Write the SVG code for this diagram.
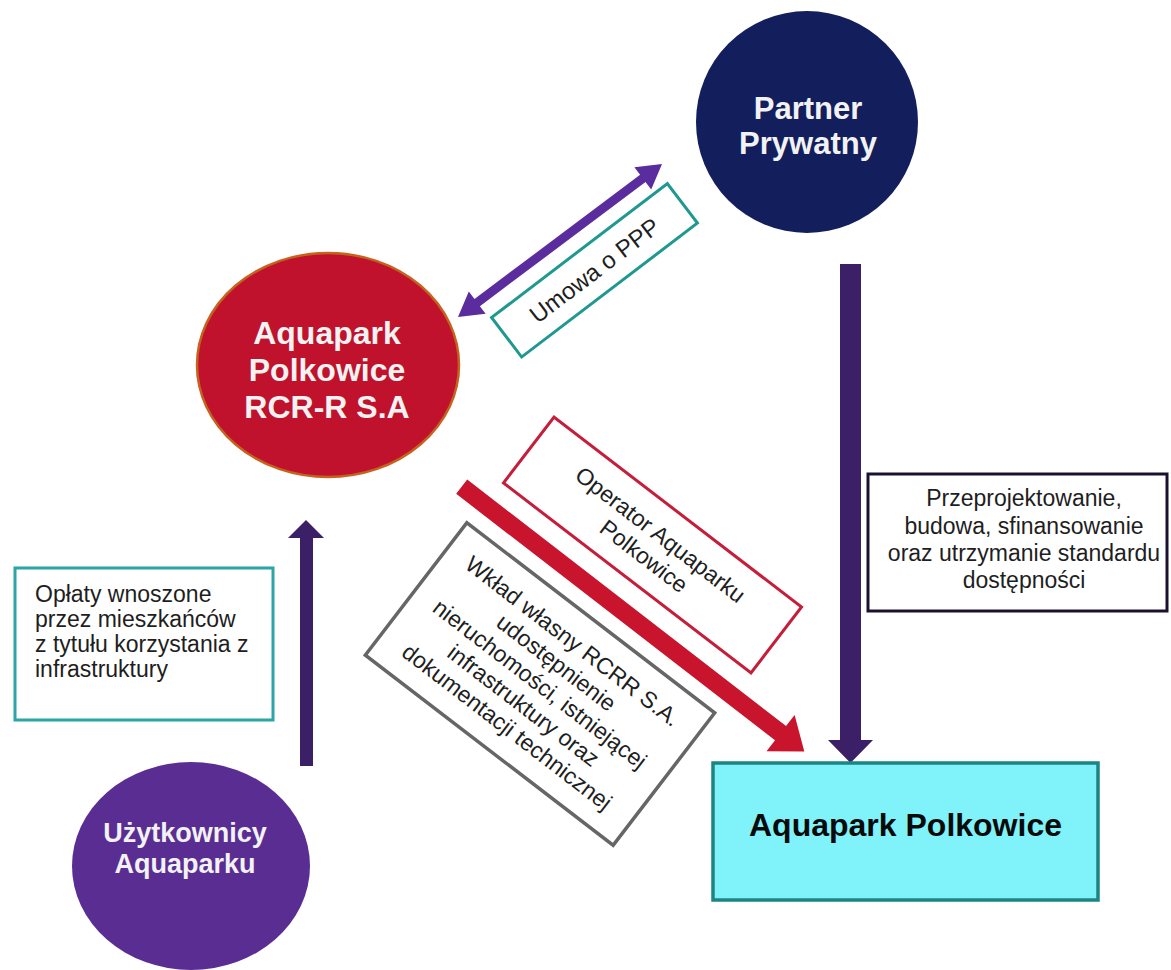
<svg xmlns="http://www.w3.org/2000/svg" width="1171" height="970" viewBox="0 0 1171 970">
  <style>
    .t { font-family: "Liberation Sans", Arial, sans-serif; fill: #1e1e1e; font-size: 23px; }
    .tb { font-family: "Liberation Sans", Arial, sans-serif; font-weight: bold; fill: #f2f2f2; font-size: 31px; text-anchor: middle; }
    .c { text-anchor: middle; }
    .darrow { fill: #3c2067; }
  </style>
  <rect width="1171" height="970" fill="#ffffff"/>

  <g id="connectors">
    <!-- Umowa o PPP double arrow -->
    <polygon fill="#5a2c9e" transform="translate(458,317) rotate(-36.87)" points="0,0 24,-14 24,-4.5 231,-4.5 231,-14 255,0 231,14 231,4.5 24,4.5 24,14"/>
    <!-- Partner -> Aquapark Polkowice -->
    <polygon class="darrow" points="840,264 861,264 861,740 873,740 850.5,763 828,740 840,740"/>
    <!-- Użytkownicy -> RCR-R -->
    <polygon class="darrow" points="300,766 313,766 313,538 324,538 306,520 288,538 300,538"/>
    <!-- RCR-R -> Aquapark Polkowice (red) -->
    <polygon fill="#c8142c" transform="translate(461.7,486.7) rotate(37.7)" points="0,-9 403,-9 403,-23 433,0 403,23 403,9 0,9"/>
  </g>

  <g id="node-partner">
    <circle cx="807" cy="122" r="111" fill="#131f5d"/>
    <text class="tb" x="808" y="119">Partner</text>
    <text class="tb" x="808" y="154">Prywatny</text>
  </g>

  <g id="node-rcr">
    <ellipse cx="328" cy="365" rx="131" ry="112" fill="#c0122c" stroke="#c4621e" stroke-width="2.5"/>
    <text class="tb" x="327" y="344" style="font-size:32px">Aquapark</text>
    <text class="tb" x="327" y="381" style="font-size:32px">Polkowice</text>
    <text class="tb" x="327" y="418" style="font-size:32px">RCR-R S.A</text>
  </g>

  <g id="node-uzytkownicy">
    <ellipse cx="191" cy="866" rx="119" ry="104" fill="#5a2d93"/>
    <text class="tb" x="185" y="842" style="font-size:27px">Użytkownicy</text>
    <text class="tb" x="185" y="873" style="font-size:27px">Aquaparku</text>
  </g>

  <g id="node-aquapark">
    <rect x="713" y="763" width="385" height="137" fill="#80f2fa" stroke="#1b8584" stroke-width="3.5"/>
    <text x="905.5" y="836" style="font-family:'Liberation Sans', Arial, sans-serif; font-weight:bold; font-size:32px; fill:#0a0a0a; text-anchor:middle">Aquapark Polkowice</text>
  </g>

  <g id="label-umowa" transform="translate(594.5,270.3) rotate(-37.3)">
    <rect x="-110.5" y="-24.8" width="221" height="49.6" fill="#ffffff" stroke="#1f9990" stroke-width="3"/>
    <text class="t c" x="0" y="8.5" style="font-size:24px">Umowa o PPP</text>
  </g>

  <g id="label-operator" transform="translate(652.5,545) rotate(37.5)">
    <rect x="-156" y="-41.5" width="312" height="83" fill="#ffffff" stroke="#c41e3a" stroke-width="3"/>
    <text class="t c" x="0" y="-5">Operator Aquaparku</text>
    <text class="t c" x="0" y="22">Polkowice</text>
  </g>

  <g id="label-wklad" transform="translate(540,684) rotate(37.5)">
    <rect x="-156.2" y="-83.4" width="312.4" height="166.8" fill="#ffffff" stroke="#666666" stroke-width="3.5"/>
    <text class="t c" x="0" y="-46">Wkład własny RCRR S.A.</text>
    <text class="t c" x="0" y="-19">udostępnienie</text>
    <text class="t c" x="0" y="8">nieruchomości, istniejącej</text>
    <text class="t c" x="0" y="35">infrastruktury oraz</text>
    <text class="t c" x="0" y="62">dokumentacji technicznej</text>
  </g>

  <g id="label-przeprojektowanie">
    <rect x="868" y="474" width="299" height="137" fill="#ffffff" stroke="#1c1030" stroke-width="3"/>
    <text class="t c" x="1024" y="506">Przeprojektowanie,</text>
    <text class="t c" x="1024" y="533.5">budowa, sfinansowanie</text>
    <text class="t c" x="1024" y="561">oraz utrzymanie standardu</text>
    <text class="t c" x="1024" y="588">dostępności</text>
  </g>

  <g id="label-oplaty">
    <rect x="15" y="568" width="258" height="152" fill="#ffffff" stroke="#2ba5a5" stroke-width="3"/>
    <text class="t" x="35" y="602">Opłaty wnoszone</text>
    <text class="t" x="35" y="627">przez mieszkańców</text>
    <text class="t" x="35" y="652">z tytułu korzystania z</text>
    <text class="t" x="35" y="677">infrastruktury</text>
  </g>
</svg>
